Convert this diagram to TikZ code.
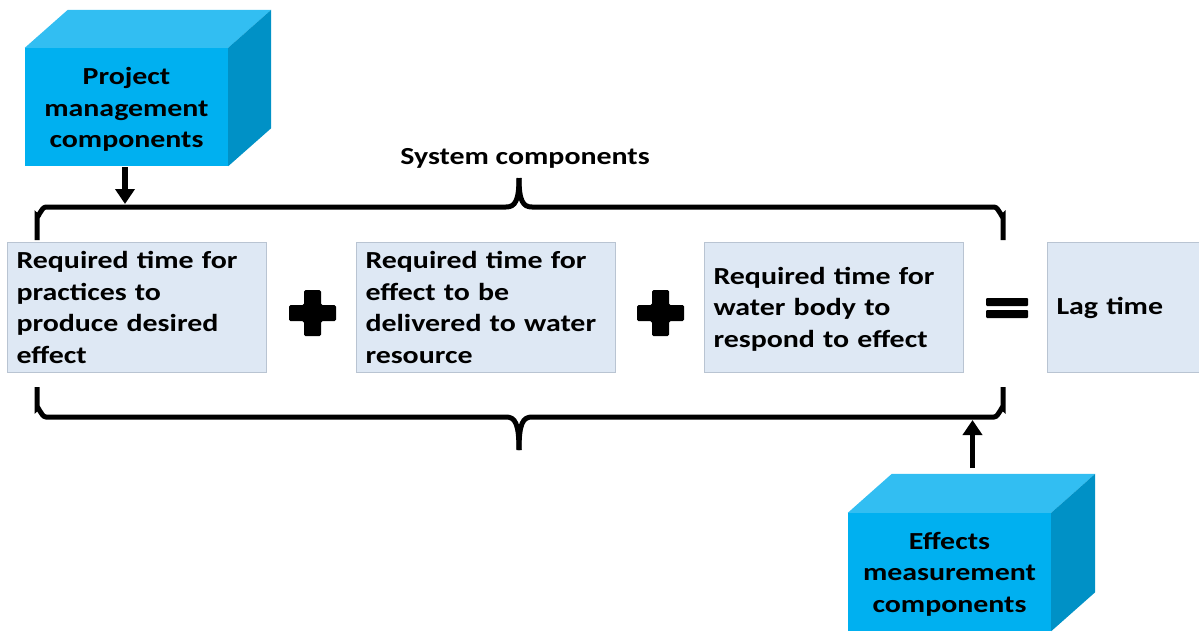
\documentclass[tikz,border=0pt]{standalone}
\usepackage{fontspec}
\setmainfont{Carlito}[FakeStretch=1.22]
\usetikzlibrary{arrows.meta}
\definecolor{cubefront}{RGB}{0,176,240}
\definecolor{cubetop}{RGB}{50,190,242}
\definecolor{cubeside}{RGB}{0,145,198}
\definecolor{boxfill}{RGB}{222,232,244}
\definecolor{boxline}{RGB}{185,196,210}
\begin{document}
\begin{tikzpicture}[x=1pt,y=-1pt,
  lbl/.style={font=\fontsize{24.5}{31.5}\selectfont\bfseries},
  cubeface/.style={lbl, fill=cubefront, minimum width=203pt, minimum height=118pt,
    align=center, inner sep=0pt},
  term/.style={lbl, draw=boxline, fill=boxfill, line width=1pt, minimum height=130pt,
    text width=241pt, inner xsep=9pt, align=left, anchor=north west},
  arr/.style={line width=5.5pt, -{Triangle[width=19pt,length=15pt]}},
  bracepath/.style={line width=5pt},
  opsign/.style={fill=black, rounded corners=1.5pt}
]
\clip (0,0) rectangle (1199,633);

% management cube
\node[cubeface] (pm) at (126.5,107) {\rule{0pt}{22pt}Project\\management\\components};
\fill[cubetop] (pm.north west) -- ++(43,-38) -- ([shift={(43,-38)}]pm.north east) -- (pm.north east) -- cycle;
\fill[cubeside] (pm.north east) -- ++(43,-38) -- ([shift={(43,-38)}]pm.south east) -- (pm.south east) -- cycle;

% measurement cube
\node[cubeface] (em) at (949.5,572) {\rule{0pt}{21pt}Effects\\measurement\\components};
\fill[cubetop] (em.north west) -- ++(44,-39) -- ([shift={(44,-39)}]em.north east) -- (em.north east) -- cycle;
\fill[cubeside] (em.north east) -- ++(44,-39) -- ([shift={(44,-39)}]em.south east) -- (em.south east) -- cycle;

% terms of the sum
\node[term] (t1) at (7,242) {Required time for\\practices to\\produce desired\\effect};
\node[term] (t2) at (356,242) {Required time for\\effect to be\\delivered to water\\resource};
\node[term] (t3) at (704,242) {\rule{0pt}{20pt}Required time for\\water body to\\respond to effect};
\node[term, text width=150pt] (lag) at (1047,242) {Lag time};

% plus and equals signs
\fill[opsign] (304,290) -- (321,290) -- (321,305) -- (336,305) -- (336,321) -- (321,321)
  -- (321,336) -- (304,336) -- (304,321) -- (289,321) -- (289,305) -- (304,305) -- cycle;
\fill[opsign] (652,290) -- (669,290) -- (669,305) -- (684,305) -- (684,321) -- (669,321)
  -- (669,336) -- (652,336) -- (652,321) -- (637,321) -- (637,305) -- (652,305) -- cycle;
\fill[opsign, rounded corners=1pt] (986,298) rectangle (1028,306);
\fill[opsign, rounded corners=1pt] (986,310) rectangle (1028,318);

% upper brace
\draw[bracepath] (37,240) -- (37,216) to[out=-90,in=180] (46,207) -- (506,207)
  .. controls (515,207) and (519,201) .. (519,178);
\draw[bracepath] (1003,240) -- (1003,216) to[out=-90,in=0] (994,207) -- (532,207)
  .. controls (523,207) and (519,201) .. (519,178);
\node[lbl] (sys) at (525,158) {System components};

% lower brace
\draw[bracepath] (37,387) -- (37,408) to[out=90,in=180] (46,417) -- (506,417)
  .. controls (515,417) and (519,423) .. (519,450);
\draw[bracepath] (1003,387) -- (1003,408) to[out=90,in=0] (994,417) -- (532,417)
  .. controls (523,417) and (519,423) .. (519,450);

% connectors
\coordinate (tb) at (125,204);
\coordinate (pmtail) at (125,167);
\draw[arr] (pmtail) -- (tb);
\coordinate (emtail) at (972.5,468);
\coordinate (bb) at (972.5,420);
\draw[arr] (emtail) -- (bb);
\end{tikzpicture}
\end{document}
